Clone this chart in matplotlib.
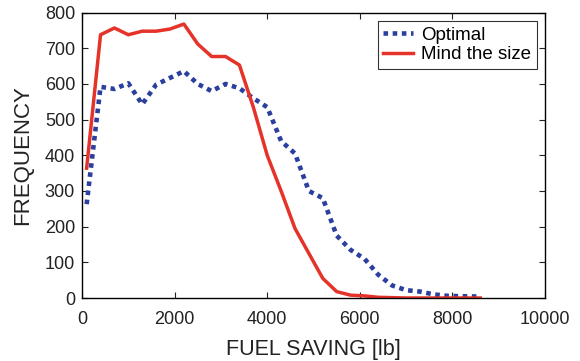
import matplotlib
matplotlib.use('Agg')
import matplotlib.pyplot as plt

plt.rcParams['font.family'] = ['Liberation Sans', 'DejaVu Sans']

# histogram bin centres [lb]
saving = [100, 400, 700, 1000, 1300, 1600, 1900, 2200, 2500, 2800,
          3100, 3400, 3700, 4000, 4300, 4600, 4900, 5200, 5500, 5800,
          6100, 6400, 6700, 7000, 7300, 7600, 7900, 8200, 8600]

optimal = [263, 592, 586, 602, 543, 598, 617, 636, 600, 580,
           600, 588, 560, 535, 440, 405, 300, 280, 175, 135,
           110, 65, 35, 22, 18, 10, 6, 5, 4]

mind_size = [364, 738, 757, 738, 748, 748, 754, 768, 712, 677,
             677, 653, 535, 400, 300, 195, 125, 55, 18, 8,
             6, 2, 1, 0, 0, 0, 0, 0, 0]

xticks = [0, 2000, 4000, 6000, 8000, 10000]
yticks = [0, 100, 200, 300, 400, 500, 600, 700, 800]

fig = plt.figure(figsize=(5.8, 3.61), dpi=100)
ax = fig.add_axes([0.1414, 0.1745, 0.7983, 0.7905])

ax.plot(saving, optimal, color='#2b3f9e', linestyle=(0, (1.0, 1.0)),
        linewidth=3.3, label='Optimal')
ax.plot(saving, mind_size, color='#e5332a', linewidth=2.5,
        label='Mind the size')

ax.set_xlim(0, 10000)
ax.set_ylim(0, 800)
ax.set_xticks(xticks)
ax.set_yticks(yticks)
ax.tick_params(direction='in', top=True, right=True, length=4,
               labelsize=13, width=0.8, colors='#222222',
               labelcolor='#222222')
ax.tick_params(axis='x', pad=9)
ax.tick_params(axis='y', pad=5)
for s in ax.spines.values():
    s.set_linewidth(1.0)

ax.set_xlabel('FUEL SAVING [lb]', fontsize=15.5, labelpad=8, color='#222222')
ax.set_ylabel('FREQUENCY', fontsize=16, labelpad=8, color='#222222')

leg = ax.legend(loc='upper right', fontsize=13.5, frameon=True, fancybox=False,
                edgecolor='black', borderpad=0.3, labelspacing=0.12,
                handlelength=1.6, handletextpad=0.4, borderaxespad=0.45,
                bbox_to_anchor=(1.0, 1.0))
leg.get_frame().set_linewidth(0.8)

fig.savefig('out.png', dpi=100)
